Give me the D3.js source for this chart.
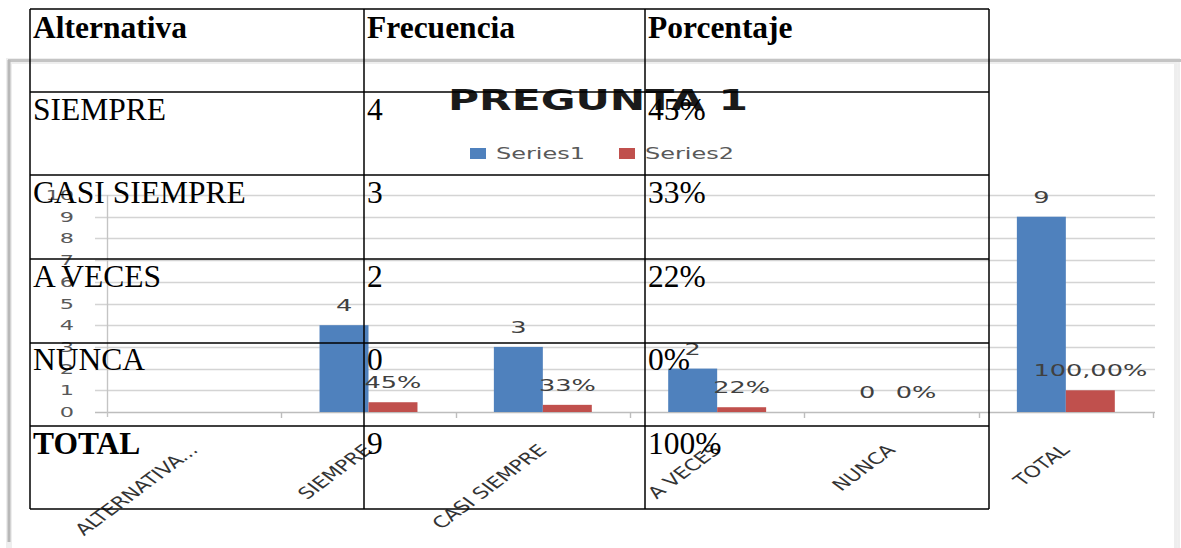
<!DOCTYPE html>
<html><head><meta charset="utf-8">
<script src="https://cdn.jsdelivr.net/npm/d3@7"></script>
<style>
html,body{margin:0;padding:0;background:#fff;}
svg{display:block;}
</style></head>
<body>
<svg id="c" width="1181" height="548"></svg>
<script>
// ---- data ----
const categories = ["ALTERNATIVA...", "SIEMPRE", "CASI SIEMPRE", "A VECES", "NUNCA", "TOTAL"];
const series1 = [null, 4, 3, 2, 0, 9];
const series2 = [null, 0.45, 0.33, 0.22, 0, 1];
const series1Labels = [null, "4", "3", "2", "0", "9"];
const series2Labels = [null, "45%", "33%", "22%", "0%", "100,00%"];
const seriesNames = ["Series1", "Series2"];
const yTicks = [0,1,2,3,4,5,6,7,8,9,10];
const chartTitle = "PREGUNTA 1";

const tableHeaders = ["Alternativa", "Frecuencia", "Porcentaje"];
const tableAlternativa = ["", "SIEMPRE", "CASI SIEMPRE", "A VECES", "NUNCA", "TOTAL"];
const tableFrecuencia = ["", "4", "3", "2", "0", "9"];
const tablePorcentaje = ["", "45%", "33%", "22%", "0%", "100%"];

// ---- layout ----
const svg = d3.select("#c");
const SX = 1.6;                 // horizontal stretch of the pasted chart image
const SXL = 1.35;               // stretch for rotated category labels
const colors = ["#4f81bd", "#c0504d"];
const font = "DejaVu Sans, Verdana, sans-serif";

// chart frame
const frame = svg.append("g");
frame.append("rect").attr("x", 9).attr("y", 61).attr("width", 1168).attr("height", 500)
  .attr("fill", "none").attr("stroke", "#eeeeee").attr("stroke-width", 6);
frame.append("line").attr("x1", 8).attr("x2", 1181).attr("y1", 60.5).attr("y2", 60.5)
  .attr("stroke", "#c4c4c4").attr("stroke-width", 3);
frame.append("line").attr("x1", 9).attr("x2", 9).attr("y1", 60).attr("y2", 542)
  .attr("stroke", "#b8b8b8").attr("stroke-width", 3);
frame.append("line").attr("x1", 1177.5).attr("x2", 1177.5).attr("y1", 62).attr("y2", 548)
  .attr("stroke", "#f0f0f0").attr("stroke-width", 1);

// scales
const y = d3.scaleLinear().domain([0, 10]).range([412, 195]);
const x = d3.scaleBand().domain(categories).range([107, 1153]).paddingInner(0).paddingOuter(0);
const xs = d3.scaleBand().domain(seriesNames).range([0, x.bandwidth()]).paddingInner(0).paddingOuter(0.78);

// gridlines
const grid = svg.append("g");
grid.selectAll("line").data(yTicks).join("line")
  .attr("x1", 95).attr("x2", 1155)
  .attr("y1", d => Math.round(y(d)) + 0.5).attr("y2", d => Math.round(y(d)) + 0.5)
  .attr("stroke", d => d === 0 ? "#bdbdbd" : "#d4d4d4").attr("stroke-width", 1.4);

// y axis line
svg.append("line").attr("x1", 107.5).attr("x2", 107.5).attr("y1", y(10)).attr("y2", y(0) + 5)
  .attr("stroke", "#c4c4c4").attr("stroke-width", 1.4);

// x tick marks at band boundaries
const bounds = categories.map(c => x(c)).concat([x(categories[categories.length-1]) + x.bandwidth()]);
svg.append("g").selectAll("line").data(bounds.slice(1)).join("line")
  .attr("x1", d => Math.round(d) + 0.5).attr("x2", d => Math.round(d) + 0.5)
  .attr("y1", y(0)).attr("y2", y(0) + 6)
  .attr("stroke", "#bdbdbd").attr("stroke-width", 1.4);

// y labels
svg.append("g").selectAll("text").data(yTicks).join("text")
  .attr("transform", d => `translate(74,${y(d)}) scale(${SX},1)`)
  .attr("text-anchor", "end").attr("dy", "0.36em")
  .attr("font-family", font).attr("font-size", 14).attr("fill", "#595959")
  .text(d => d);

// bars
const rows = categories.map((c, i) => ({c, v: [series1[i], series2[i]], l: [series1Labels[i], series2Labels[i]]}));
const barG = svg.append("g");
rows.forEach(r => {
  seriesNames.forEach((s, k) => {
    const v = r.v[k];
    if (v === null) return;
    const bx = x(r.c) + xs(s);
    if (v > 0) {
      barG.append("rect").attr("x", bx).attr("width", xs.bandwidth())
        .attr("y", y(v)).attr("height", y(0) - y(v)).attr("fill", colors[k]);
    }
    barG.append("text")
      .attr("transform", `translate(${bx + xs.bandwidth()/2},${y(v) - 14}) scale(${SX},1)`)
      .attr("text-anchor", "middle")
      .attr("font-family", font).attr("font-size", 16).attr("fill", "#404040")
      .text(r.l[k]);
  });
});

// x labels rotated
svg.append("g").selectAll("text").data(categories).join("text")
  .attr("transform", d => `translate(${x(d) + x.bandwidth()/2 + 5},451) scale(${SXL},1) rotate(-45)`)
  .attr("text-anchor", "end")
  .attr("font-family", font).attr("font-size", 16).attr("fill", "#333333")
  .text(d => d);

// title
svg.append("text").attr("x", 448).attr("y", 110)
  .attr("textLength", 300).attr("lengthAdjust", "spacingAndGlyphs")
  .attr("font-family", font).attr("font-weight", "bold").attr("font-size", 29).attr("fill", "#1a1a1a")
  .text(chartTitle);

// legend
const legX = [470, 619];
const leg = svg.append("g");
seriesNames.forEach((s, k) => {
  leg.append("rect").attr("x", legX[k]).attr("y", 148).attr("width", 16).attr("height", 11).attr("fill", colors[k]);
  leg.append("text").attr("transform", `translate(${legX[k] + 26},159) scale(${SX},1)`)
    .attr("font-family", font).attr("font-size", 15).attr("fill", "#595959").text(s);
});

// ---- table overlay ----
const tbl = svg.append("g");
const colX = [30, 364, 645, 989];
const rowY = [9, 92, 175, 259, 343, 426, 509];
const rowTextY = [38, 120, 203, 287, 370, 454];
tbl.selectAll("line.v").data(colX).join("line")
  .attr("x1", d => d).attr("x2", d => d).attr("y1", rowY[0]).attr("y2", rowY[rowY.length-1])
  .attr("stroke", "#000").attr("stroke-width", 1.5);
tbl.selectAll("line.h").data(rowY).join("line")
  .attr("x1", colX[0]).attr("x2", colX[3]).attr("y1", d => d).attr("y2", d => d)
  .attr("stroke", "#000").attr("stroke-width", 1.5);
const serif = "Liberation Serif, Times New Roman, serif";
const cols = [tableAlternativa, tableFrecuencia, tablePorcentaje];
tableHeaders.forEach((h, j) => {
  tbl.append("text").attr("x", colX[j] + 3).attr("y", rowTextY[0])
    .attr("font-family", serif).attr("font-size", 31.5).attr("font-weight", "bold").text(h);
});
for (let i = 1; i < tableAlternativa.length; i++) {
  cols.forEach((col, j) => {
    if (!col[i]) return;
    tbl.append("text").attr("x", colX[j] + 3).attr("y", rowTextY[i])
      .attr("font-family", serif).attr("font-size", 31.5)
      .attr("font-weight", (i === tableAlternativa.length - 1 && j === 0) ? "bold" : "normal")
      .text(col[i]);
  });
}
</script>
</body></html>
